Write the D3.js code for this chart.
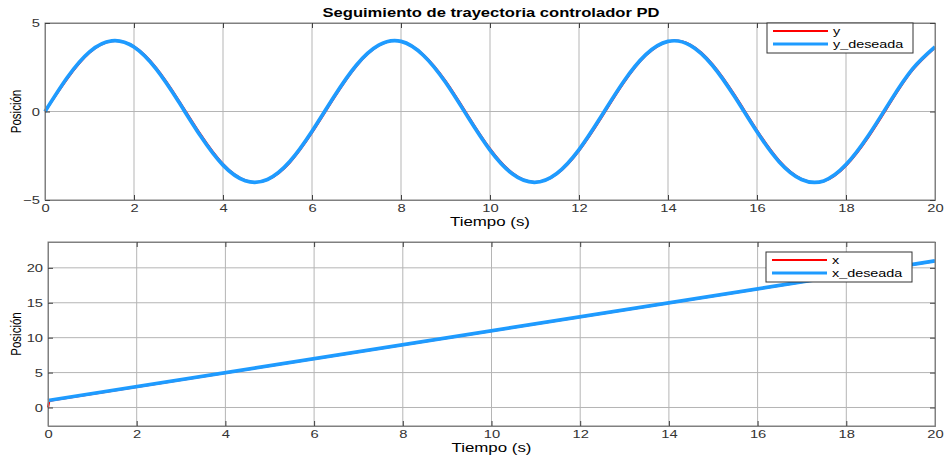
<!DOCTYPE html>
<html>
<head>
<meta charset="utf-8">
<script src="https://cdn.jsdelivr.net/npm/d3@7"></script>
<style>
  body { margin: 0; background: #fff; }
  svg { font-family: "Liberation Sans", Arial, sans-serif; }
</style>
</head>
<body>
<div class="chart"></div>
<script>
// time samples (s)
var tiempo = [0, 0.5, 1, 1.5, 2, 2.5, 3, 3.5, 4, 4.5, 5, 5.5, 6, 6.5, 7, 7.5, 8, 8.5, 9, 9.5,
  10, 10.5, 11, 11.5, 12, 12.5, 13, 13.5, 14, 14.5, 15, 15.5, 16, 16.5, 17, 17.5, 18, 18.5, 19, 19.5, 20];

// y desired (blue)
var yDeseada = [0, 1.92, 3.37, 3.99, 3.64, 2.39, 0.56, -1.40, -3.03, -3.91, -3.84, -2.83, -1.12, 0.86,
  2.63, 3.75, 3.96, 3.18, 1.65, -0.30, -2.18, -3.52, -4.00, -3.50, -2.15, -0.27, 1.68, 3.21, 3.96,
  3.74, 2.60, 0.83, -1.15, -2.85, -3.84, -3.92, -3.00, -1.37, 0.60, 2.42, 3.65];

// y actual (red), lags a hair behind
var yReal = [0, 1.85, 3.32, 3.97, 3.67, 2.46, 0.65, -1.31, -2.97, -3.89, -3.86, -2.89, -1.20, 0.78,
  2.57, 3.72, 3.97, 3.22, 1.73, -0.21, -2.10, -3.47, -3.99, -3.54, -2.22, -0.36, 1.60, 3.16, 3.95,
  3.77, 2.67, 0.92, -1.06, -2.78, -3.81, -3.94, -3.06, -1.46, 0.51, 2.35, 3.61];

// x desired (blue) and actual (red)
var tX = [0, 20];
var xDeseada = [1, 21];
var tXReal = [0, 0.03, 0.15, 20];
var xReal = [0, 0.95, 1.1, 20.95];

var xTicks = [0, 2, 4, 6, 8, 10, 12, 14, 16, 18, 20];
var yTicksTop = [-5, 0, 5];
var yTicksBottom = [0, 5, 10, 15, 20];

var RED = "#ff0000";
var BLUE = "#1e9bff";

var svg = d3.select(".chart").append("svg")
  .attr("width", 944)
  .attr("height", 458);

function zip(ts, vs) {
  return ts.map(function(t, i) { return [t, vs[i]]; });
}

// the reference picture is stretched sideways, so widen the glyphs a bit
function stretch(sel, k) {
  sel.each(function() {
    var w = this.getComputedTextLength();
    d3.select(this).attr("textLength", w * k).attr("lengthAdjust", "spacingAndGlyphs");
  });
}

function drawPanel(opt) {
  var x = d3.scaleLinear().domain([0, 20]).range([opt.left, opt.right]);
  var y = d3.scaleLinear().domain(opt.yDomain).range([opt.bottom, opt.top]);
  var g = svg.append("g");

  // grid
  g.selectAll(".vgrid").data(xTicks.slice(1, -1)).enter().append("line")
    .attr("x1", d => x(d)).attr("x2", d => x(d))
    .attr("y1", opt.top).attr("y2", opt.bottom)
    .attr("stroke", "#b5b5b5").attr("stroke-width", 1);
  g.selectAll(".hgrid").data(opt.yTicks.filter(d => y(d) > opt.top + 1 && y(d) < opt.bottom - 1)).enter().append("line")
    .attr("x1", opt.left).attr("x2", opt.right)
    .attr("y1", d => y(d)).attr("y2", d => y(d))
    .attr("stroke", "#b5b5b5").attr("stroke-width", 1);

  // lines
  var line = d3.line().x(d => x(d[0])).y(d => y(d[1])).curve(opt.curve);
  g.append("path").datum(opt.red)
    .attr("d", line).attr("fill", "none")
    .attr("stroke", RED).attr("stroke-width", 2.2);
  g.append("path").datum(opt.blue)
    .attr("d", line).attr("fill", "none")
    .attr("stroke", BLUE).attr("stroke-width", 3.7);

  // box
  g.append("rect")
    .attr("x", opt.left).attr("y", opt.top)
    .attr("width", opt.right - opt.left).attr("height", opt.bottom - opt.top)
    .attr("fill", "none").attr("stroke", "#808080").attr("stroke-width", 1);

  // axes with inward ticks
  var bottomAxis = d3.axisBottom(x).tickValues(xTicks).tickSize(-5).tickPadding(4).tickFormat(d3.format("d"));
  var ax = g.append("g").attr("transform", `translate(0, ${opt.bottom})`).call(bottomAxis);
  var topAxis = d3.axisTop(x).tickValues(xTicks).tickSize(-5).tickFormat("");
  var axt = g.append("g").attr("transform", `translate(0, ${opt.top})`).call(topAxis);
  var leftAxis = d3.axisLeft(y).tickValues(opt.yTicks).tickSize(-5).tickPadding(5).tickFormat(d3.format("d"));
  var ay = g.append("g").attr("transform", `translate(${opt.left}, 0)`).call(leftAxis);
  var rightAxis = d3.axisRight(y).tickValues(opt.yTicks).tickSize(-5).tickFormat("");
  var ayr = g.append("g").attr("transform", `translate(${opt.right}, 0)`).call(rightAxis);
  [ax, axt, ay, ayr].forEach(function(a) {
    a.select(".domain").attr("stroke", "#808080");
    a.selectAll(".tick line").attr("stroke", "#404040");
    a.selectAll("text").attr("fill", "#333").style("font-size", "11.5px")
      .style("font-family", "'Liberation Sans', Arial, sans-serif")
      .call(stretch, 1.28);
  });

  // axis labels
  g.append("text")
    .attr("x", (opt.left + opt.right) / 2)
    .attr("y", opt.bottom + 26)
    .attr("text-anchor", "middle")
    .style("font-size", "12px").attr("fill", "#000")
    .attr("textLength", 80).attr("lengthAdjust", "spacingAndGlyphs")
    .text("Tiempo (s)");
  g.append("text")
    .attr("transform", `translate(16, ${(opt.top + opt.bottom) / 2}) scale(1.35, 1) rotate(-90)`)
    .attr("text-anchor", "middle")
    .style("font-size", "11.5px").attr("fill", "#000")
    .attr("dy", "0.35em")
    .text("Posición");

  // legend
  var lg = g.append("g").attr("transform", `translate(${opt.legX}, ${opt.legY})`);
  lg.append("rect").attr("width", 146).attr("height", 30)
    .attr("fill", "#fff").attr("stroke", "#333").attr("stroke-width", 1);
  opt.names.forEach(function(n, i) {
    var yy = 8 + i * 13;
    lg.append("line").attr("x1", 6).attr("x2", 61).attr("y1", yy).attr("y2", yy)
      .attr("stroke", i === 0 ? RED : BLUE).attr("stroke-width", i === 0 ? 2.2 : 3);
    lg.append("text").attr("x", 66).attr("y", yy).attr("dy", "0.35em")
      .style("font-size", "11.5px").attr("fill", "#000")
      .text(n)
      .call(stretch, 1.25);
  });
}

svg.append("text")
  .attr("x", 491).attr("y", 17)
  .attr("text-anchor", "middle")
  .style("font-size", "12px").style("font-weight", "bold")
  .attr("textLength", 337).attr("lengthAdjust", "spacingAndGlyphs")
  .text("Seguimiento de trayectoria controlador PD");

drawPanel({
  left: 45, right: 935, top: 23, bottom: 200,
  yDomain: [-5, 5], yTicks: yTicksTop, curve: d3.curveNatural,
  red: zip(tiempo, yReal), blue: zip(tiempo, yDeseada),
  names: ["y", "y_deseada"], legX: 767, legY: 23
});

drawPanel({
  left: 48, right: 935, top: 242, bottom: 426,
  yDomain: [-2.65, 23.7], yTicks: yTicksBottom, curve: d3.curveLinear,
  red: zip(tXReal, xReal), blue: zip(tX, xDeseada),
  names: ["x", "x_deseada"], legX: 766, legY: 252
});
</script>
</body>
</html>
